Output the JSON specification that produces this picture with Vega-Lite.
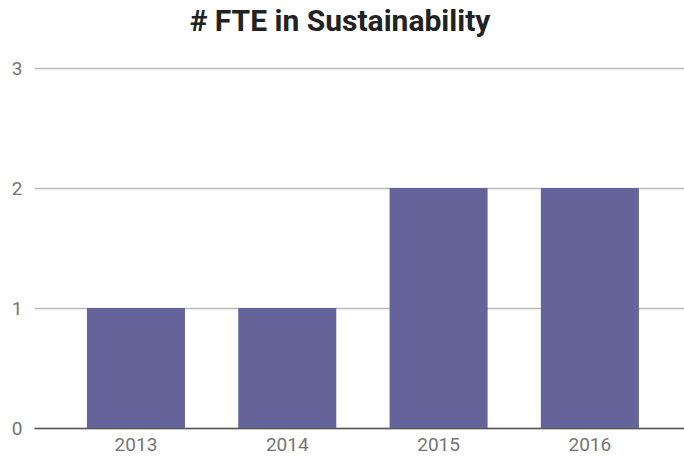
{
  "$schema": "https://vega.github.io/schema/vega-lite/v6.json",
  "autosize": {"type": "none"},
  "padding": {"left": 34, "top": 68, "right": 0, "bottom": 33},
  "width": 650,
  "height": 360,
  "background": "white",
  "title": {
    "text": "# FTE in Sustainability",
    "font": "Roboto",
    "fontSize": 30,
    "fontWeight": "bold",
    "color": "#222222",
    "anchor": "middle",
    "offset": 22,
    "dx": -19
  },
  "data": {
    "values": [
      {"year": "2013", "fte": 1},
      {"year": "2014", "fte": 1},
      {"year": "2015", "fte": 2},
      {"year": "2016", "fte": 2}
    ]
  },
  "mark": {"type": "bar", "color": "#65649A"},
  "encoding": {
    "x": {
      "field": "year",
      "type": "ordinal",
      "scale": {"paddingInner": 0.352, "paddingOuter": 0.324, "align": 0.54},
      "axis": {
        "title": null,
        "labelAngle": 0,
        "labelFont": "Roboto",
        "labelFontSize": 19,
        "labelColor": "#757575",
        "labelPadding": 7,
        "ticks": false,
        "domain": true,
        "domainColor": "#555555",
        "domainWidth": 1.5,
        "grid": false
      }
    },
    "y": {
      "field": "fte",
      "type": "quantitative",
      "scale": {"domain": [0, 3], "nice": false},
      "axis": {
        "title": null,
        "values": [0, 1, 2, 3],
        "labelFont": "Roboto",
        "labelFontSize": 19,
        "labelColor": "#757575",
        "labelPadding": 12,
        "ticks": false,
        "domain": false,
        "grid": true,
        "gridColor": "#BBBBBB",
        "gridWidth": 1.5
      }
    }
  },
  "config": {"view": {"stroke": null}}
}
